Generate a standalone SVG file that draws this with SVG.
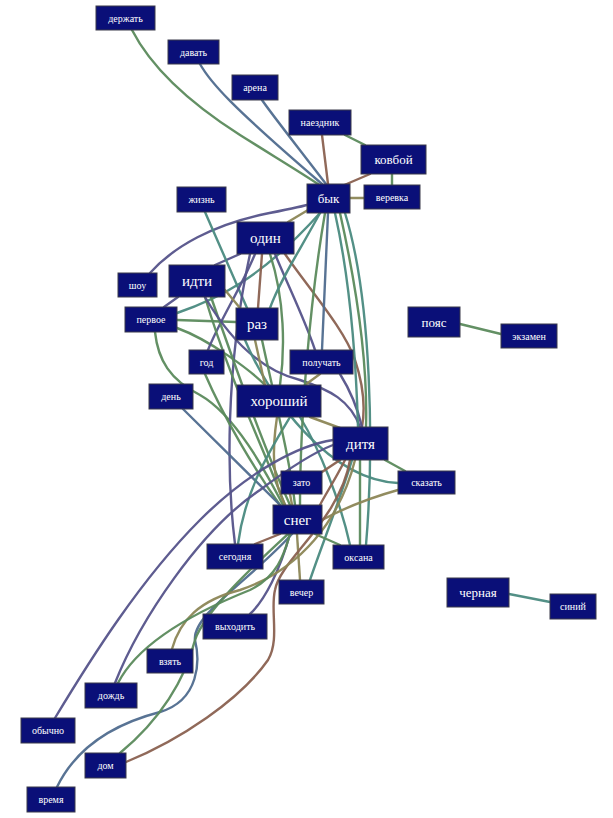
<svg xmlns="http://www.w3.org/2000/svg" width="613" height="818" viewBox="0 0 613 818">
<style>
.e{fill:none;stroke-width:2.4;stroke-linecap:round;opacity:0.95}
.g{stroke:#5b8a5c}.b{stroke:#4f6c8e}.r{stroke:#8a6150}.p{stroke:#55538a}.o{stroke:#8c8656}.t{stroke:#4a8a80}
.n rect{fill:#0a0f78;stroke:#3a3a4a;stroke-width:1}
.n text{fill:#fff;font-family:"Liberation Serif",serif;text-anchor:middle}
.s text{font-size:10px}.l text{font-size:15px}.m text{font-size:13px}
</style>
<rect width="613" height="818" fill="#fff"/>
<g id="edges">
<path class="e g" d="M132,30 C150,65 185,100 240,135 C275,157 300,172 318,184"/>
<path class="e b" d="M200,64 C210,82 230,105 322,184"/>
<path class="e b" d="M262,100 C270,112 300,150 326,184"/>
<path class="e r" d="M322,135 L328,184"/>
<path class="e g" d="M345,135 L365,145"/>
<path class="e r" d="M370,174 L342,186"/>
<path class="e g" d="M392,174 L392,185"/>
<path class="e o" d="M350,198 L364,198"/>
<path class="e p" d="M150,273 C175,245 215,225 260,215 C285,210 300,207 307,205"/>
<path class="e o" d="M288,222 L308,210"/>
<path class="e p" d="M215,265 L240,254"/>
<path class="e p" d="M164,307 L178,297"/>
<path class="e t" d="M205,212 L247,308"/>
<path class="e g" d="M177,320 L236,322"/>
<path class="e t" d="M177,313 C215,300 260,280 320,213"/>
<path class="e g" d="M177,328 C210,340 250,370 265,385"/>
<path class="e g" d="M155,332 C158,360 170,380 200,395 C235,415 265,470 283,505"/>
<path class="e r" d="M262,254 L258,308"/>
<path class="e p" d="M275,254 C290,290 305,320 315,350"/>
<path class="e r" d="M285,254 C310,290 345,330 355,360 C365,390 365,410 362,427"/>
<path class="e g" d="M270,254 C285,300 285,350 280,385"/>
<path class="e p" d="M255,254 C240,290 220,320 208,350"/>
<path class="e p" d="M250,254 C240,300 232,360 230,420 C228,480 232,520 235,544"/>
<path class="e g" d="M205,297 C230,380 260,440 285,505"/>
<path class="e g" d="M211,297 C240,380 265,450 290,505"/>
<path class="e p" d="M205,297 C230,340 260,370 300,380 C330,390 350,400 360,427"/>
<path class="e o" d="M225,290 L240,308"/>
<path class="e g" d="M205,374 C225,420 255,470 280,505"/>
<path class="e b" d="M183,409 L280,505"/>
<path class="e o" d="M310,417 L340,428"/>
<path class="e o" d="M277,417 C272,450 272,480 285,505"/>
<path class="e t" d="M300,417 C320,450 340,500 350,545"/>
<path class="e t" d="M290,417 C270,450 245,490 238,544"/>
<path class="e p" d="M340,374 C350,390 358,410 362,427"/>
<path class="e o" d="M320,374 L305,385"/>
<path class="e b" d="M328,213 L322,350"/>
<path class="e g" d="M340,213 C355,280 368,360 366,427"/>
<path class="e t" d="M335,213 C350,280 356,360 358,427"/>
<path class="e t" d="M320,213 C300,250 280,280 270,308"/>
<path class="e t" d="M345,213 C372,300 374,450 366,545"/>
<path class="e g" d="M325,213 C310,300 300,420 300,505"/>
<path class="e g" d="M262,340 C275,400 290,460 295,505"/>
<path class="e t" d="M245,340 C270,400 330,480 398,483"/>
<path class="e o" d="M255,340 L265,385"/>
<path class="e g" d="M385,460 L405,471"/>
<path class="e r" d="M340,460 L322,472"/>
<path class="e r" d="M345,460 C335,480 325,495 320,505"/>
<path class="e g" d="M360,460 L360,545"/>
<path class="e t" d="M352,460 C340,500 320,550 310,580"/>
<path class="e o" d="M322,520 C350,505 380,495 398,490"/>
<path class="e g" d="M315,534 L340,545"/>
<path class="e o" d="M297,534 L300,580"/>
<path class="e r" d="M280,534 L255,544"/>
<path class="e o" d="M290,494 L292,505"/>
<path class="e p" d="M290,534 C280,570 265,600 250,614"/>
<path class="e b" d="M57,787 C75,750 110,725 160,712 C200,700 200,660 195,640 C192,615 250,580 292,534"/>
<path class="e r" d="M126,762 C180,740 240,700 268,660 C280,640 270,610 275,590 C280,560 340,520 350,460"/>
<path class="e g" d="M120,753 C160,720 185,680 195,640 C205,610 260,560 288,534"/>
<path class="e o" d="M172,649 C180,620 200,600 240,590 C300,570 340,520 355,460"/>
<path class="e g" d="M118,683 C140,640 200,610 250,590 C280,575 285,550 290,534"/>
<path class="e p" d="M115,683 C140,620 200,530 260,490 C300,460 320,450 333,445"/>
<path class="e p" d="M55,718 C90,660 140,580 200,520 C250,470 300,445 333,440"/>
<path class="e g" d="M460,324 L501,334"/>
<path class="e t" d="M509,594 L550,602"/>
</g>
<g id="n-derzhat" class="n s"><rect x="96" y="6" width="59" height="24"/><text x="125.5" y="21.5">держать</text></g>
<g id="n-davat" class="n s"><rect x="168" y="40" width="51" height="24"/><text x="193.5" y="55.5">давать</text></g>
<g id="n-arena" class="n s"><rect x="232" y="75" width="46" height="25"/><text x="255" y="91">арена</text></g>
<g id="n-naezdnik" class="n s"><rect x="289" y="110" width="62" height="25"/><text x="320" y="126">наездник</text></g>
<g id="n-kovboy" class="n m"><rect x="361" y="145" width="65" height="29"/><text x="393.5" y="164">ковбой</text></g>
<g id="n-byk" class="n m"><rect x="307" y="184" width="43" height="29"/><text x="328.5" y="203">бык</text></g>
<g id="n-verevka" class="n s"><rect x="364" y="185" width="56" height="24"/><text x="392" y="200.5">веревка</text></g>
<g id="n-zhizn" class="n s"><rect x="177" y="187" width="49" height="25"/><text x="201.5" y="203">жизнь</text></g>
<g id="n-odin" class="n l"><rect x="237" y="222" width="57" height="32"/><text x="265.5" y="243">один</text></g>
<g id="n-shou" class="n s"><rect x="118" y="273" width="39" height="24"/><text x="137.5" y="288.5">шоу</text></g>
<g id="n-idti" class="n l"><rect x="169" y="265" width="56" height="32"/><text x="197" y="286">идти</text></g>
<g id="n-pervoe" class="n s"><rect x="125" y="307" width="52" height="25"/><text x="151" y="323">первое</text></g>
<g id="n-raz" class="n l"><rect x="236" y="308" width="42" height="32"/><text x="257" y="329">раз</text></g>
<g id="n-god" class="n s"><rect x="189" y="350" width="35" height="24"/><text x="206.5" y="365.5">год</text></g>
<g id="n-poluchat" class="n s"><rect x="290" y="350" width="63" height="24"/><text x="321.5" y="365.5">получать</text></g>
<g id="n-horoshiy" class="n l"><rect x="237" y="385" width="84" height="32"/><text x="279" y="406">хороший</text></g>
<g id="n-den" class="n s"><rect x="149" y="384" width="44" height="25"/><text x="171" y="400">день</text></g>
<g id="n-ditya" class="n l"><rect x="333" y="427" width="55" height="33"/><text x="360.5" y="448.5">дитя</text></g>
<g id="n-zato" class="n s"><rect x="281" y="471" width="41" height="23"/><text x="301.5" y="486">зато</text></g>
<g id="n-skazat" class="n s"><rect x="398" y="471" width="57" height="23"/><text x="426.5" y="486">сказать</text></g>
<g id="n-sneg" class="n l"><rect x="273" y="505" width="49" height="29"/><text x="297.5" y="524.5">снег</text></g>
<g id="n-oksana" class="n s"><rect x="333" y="545" width="51" height="24"/><text x="358.5" y="560.5">оксана</text></g>
<g id="n-segodnya" class="n s"><rect x="207" y="544" width="56" height="25"/><text x="235" y="560">сегодня</text></g>
<g id="n-vecher" class="n s"><rect x="279" y="580" width="45" height="24"/><text x="301.5" y="595.5">вечер</text></g>
<g id="n-poyas" class="n m"><rect x="408" y="307" width="52" height="30"/><text x="434" y="326.5">пояс</text></g>
<g id="n-ekzamen" class="n s"><rect x="501" y="324" width="56" height="24"/><text x="529" y="339.5">экзамен</text></g>
<g id="n-chernaya" class="n m"><rect x="447" y="578" width="62" height="29"/><text x="478" y="597">черная</text></g>
<g id="n-siniy" class="n s"><rect x="550" y="594" width="46" height="25"/><text x="573" y="610">синий</text></g>
<g id="n-vyhodit" class="n s"><rect x="203" y="614" width="64" height="25"/><text x="235" y="630">выходить</text></g>
<g id="n-vzyat" class="n s"><rect x="147" y="649" width="46" height="24"/><text x="170" y="664.5">взять</text></g>
<g id="n-dozhd" class="n s"><rect x="85" y="683" width="52" height="25"/><text x="111" y="699">дождь</text></g>
<g id="n-obychno" class="n s"><rect x="21" y="718" width="54" height="25"/><text x="48" y="734">обычно</text></g>
<g id="n-dom" class="n s"><rect x="85" y="753" width="41" height="25"/><text x="105.5" y="769">дом</text></g>
<g id="n-vremya" class="n s"><rect x="27" y="787" width="48" height="25"/><text x="51" y="803">время</text></g>
</svg>
